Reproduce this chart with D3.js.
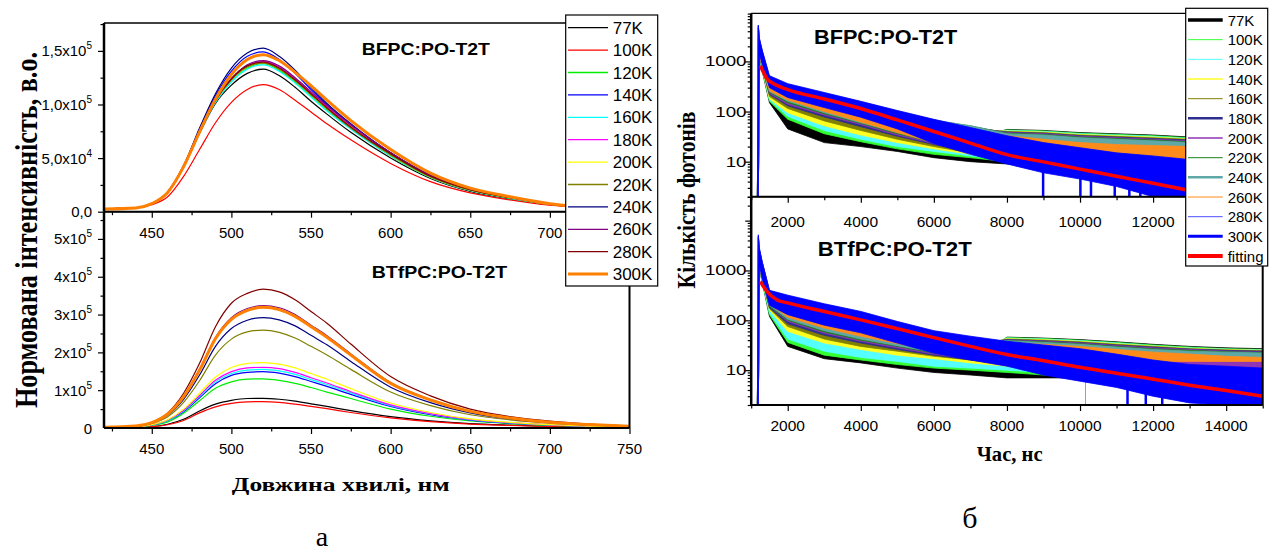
<!DOCTYPE html>
<html>
<head>
<meta charset="utf-8">
<script src="https://cdn.jsdelivr.net/npm/d3@7"></script>
<style>
  body { margin: 0; background: #fff; }
  svg { display: block; }
  text { font-family: Arial, "Liberation Sans", sans-serif; fill: #000; }
  .serif { font-family: "Times New Roman", "Liberation Serif", serif; }
</style>
</head>
<body>
<svg id="chart" width="1275" height="555"></svg>
<script>
// ---------- data ----------
const temps = ['77K', '100K', '120K', '140K', '160K', '180K', '200K', '220K', '240K', '260K', '280K', '300K'];

// (a) PL spectra, intensity in units of 10^3
const wavelengths = [420, 440, 450, 460, 470, 480, 490, 500, 510, 520, 530, 540, 550, 560, 575, 600, 625, 650, 675, 700, 725, 750];
const bfpcSpectra = [
  [2.5, 3.5, 7.5, 18, 41.5, 73, 101, 118, 129, 133, 127, 116, 103, 91, 74, 50, 31, 19, 12, 6.5, 3.5, 2],
  [2.5, 3.5, 6.5, 14, 33, 58, 83, 102, 114, 118.5, 114, 104, 93, 82, 67, 45, 28, 17.5, 11, 6, 3.5, 2],
  [2.5, 3.5, 7.5, 18, 42, 74, 103, 122, 134, 138, 132, 121, 108, 95, 78, 52, 32, 20, 12.5, 7, 4, 2],
  [2.5, 3.5, 7.5, 18.5, 43, 77, 108, 131, 145, 149, 142, 129, 114, 100, 81, 55, 34, 21, 13, 7, 4, 2],
  [2.5, 3.5, 7.5, 18, 42, 73.5, 102, 121, 133, 137, 131, 120, 107, 94, 77, 52, 32, 19.5, 12.5, 7, 4, 2],
  [2.5, 3.5, 7.5, 18, 42, 74, 104, 124, 136, 140, 135, 124, 111, 98, 80, 54, 33, 20.5, 13, 7, 4, 2],
  [2.5, 3.5, 7.5, 18, 42, 74, 103, 123, 135, 139, 133, 122, 109, 96, 79, 53, 32.5, 20, 13, 7, 4, 2],
  [2.5, 3.5, 7.5, 18, 42, 74, 103, 123, 135, 138.5, 133, 122, 109, 96, 78, 53, 32.5, 20, 13, 7, 4, 2],
  [2.5, 3.5, 7.5, 18.5, 43, 78, 110, 134, 148, 152.5, 145, 132, 116, 101, 82, 55, 34, 21, 13.5, 7, 4, 2],
  [2.5, 3.5, 7.5, 18, 42, 74, 104, 124, 137, 141, 136, 125, 112, 99, 81, 55, 34, 21, 13.5, 7.5, 4, 2],
  [2.5, 3.5, 7.5, 18, 42, 74, 104, 124, 136, 139.5, 134, 123, 110, 97, 79, 54, 33, 20.5, 13, 7, 4, 2],
  [2.5, 3.5, 7.5, 18, 42, 74.5, 105, 128, 142, 146.5, 141, 130, 117.5, 104, 85, 58, 36, 22, 14, 7.5, 4, 2.5]
];
const btfpcSpectra = [
  [2, 2.5, 4, 10, 23, 45, 63, 73, 78, 78.5, 76, 71, 64, 57, 46, 30, 19, 11.5, 7.5, 4.5, 3, 2],
  [2, 2.5, 3.5, 8.5, 20, 40, 56, 65, 69, 70, 68, 63, 57, 51, 41, 27, 17, 10.5, 7, 4, 2.5, 2],
  [2, 3, 7, 16, 39, 72, 105, 122, 129, 130, 126, 118, 107, 95, 78, 50, 31, 18.5, 11.5, 7, 4, 2.5],
  [2, 3.5, 8, 19, 43, 80, 117, 139, 147, 149, 145, 136, 123, 110, 89, 57, 35, 21, 13, 8, 4.5, 3],
  [2, 3.5, 8, 20, 45, 83, 122, 144, 153, 155, 151, 142, 128, 115, 93, 59, 37, 22, 13.5, 8, 4.5, 3],
  [2, 3.5, 8.5, 21, 47, 86, 126, 149, 159, 160.5, 157, 147, 133, 119, 96, 61, 38, 22.5, 14, 8.5, 5, 3],
  [2, 3.5, 9, 22, 50, 92, 135, 160, 171, 173, 169, 159, 144, 129, 104, 66, 41, 24, 15, 9, 5, 3],
  [2, 4, 12, 30, 68, 125, 193, 235, 254, 259, 253, 238, 216, 193, 155, 95, 59, 35, 21.5, 12.5, 7, 3.5],
  [2, 4.5, 13, 34, 76, 140, 216, 263, 285, 292, 286, 270, 245, 220, 176, 108, 67, 40, 24, 14, 8, 4],
  [2, 5, 14, 37, 84, 155, 240, 292, 316, 323.5, 318, 300, 272, 244, 196, 120, 75, 44, 27, 16, 9, 4.5],
  [2, 5, 15, 40, 92, 171, 268, 330, 356, 367, 360, 339, 308, 277, 222, 136, 85, 50, 30, 18, 10, 5],
  [2, 5, 14, 37, 83, 153, 236, 287, 311, 319, 313, 295, 268, 240, 193, 118, 74, 44, 26.5, 15.5, 9, 4.5]
];
const specColors = ['#000000', '#ff0000', '#00ee00', '#0000ff', '#00ffff', '#ff00ff', '#ffff00', '#808000', '#000080', '#800080', '#800000', '#ff8000'];
const specWidths = [1.2, 1.2, 1.2, 1.2, 1.2, 1.2, 1.2, 1.2, 1.2, 1.2, 1.2, 3];

// (б) decay curves: noisy band of each curve as lower / upper envelope
const decayTimes = [1170, 1195, 1225, 1300, 1500, 2000, 3000, 4000, 5000, 6000, 7000, 8000, 9000, 10000, 11000, 12000, 13000, 14000, 15000];
const bfpcHi = [
  [2, 4200, 2300, 1350, 350, 90, 45, 35, 30, 27, 27, 44, 42, 38, 36, 34, 31, 30, 29],
  [2, 4300, 2400, 1400, 370, 150, 75, 52, 40, 34, 32, 43, 41, 37, 35, 33, 30, 29, 28],
  [2, 4400, 2400, 1400, 380, 170, 90, 60, 45, 38, 35, 42, 40, 36, 34, 32, 29, 28, 27],
  [2, 4500, 2500, 1450, 400, 200, 110, 75, 56, 45, 40, 41, 39, 35, 33, 31, 28.5, 27.5, 26.5],
  [2, 4600, 2500, 1500, 420, 250, 150, 100, 72, 55, 45, 40, 38, 34, 32, 30, 28, 27, 26],
  [2, 4700, 2600, 1500, 440, 280, 175, 118, 82, 60, 48, 39, 37, 33, 31, 29, 27, 26, 25],
  [2, 4800, 2600, 1550, 450, 300, 190, 128, 88, 64, 50, 38, 36, 32, 30, 28, 26, 25, 24],
  [2, 4900, 2700, 1550, 460, 310, 200, 135, 92, 66, 52, 37, 35, 31, 29, 27, 25, 24, 23],
  [2, 5000, 2700, 1600, 470, 320, 210, 140, 95, 68, 52, 36, 34, 30, 28, 26, 24, 23, 22],
  [2, 5100, 2800, 1600, 480, 330, 215, 140, 90, 60, 42, 33, 28, 24, 22, 21, 20, 19, 18],
  [2, 5200, 2800, 1650, 500, 350, 232, 155, 102, 68, 47, 32, 23, 18.5, 14.5, 12.5, 10.5, 9.5, 8.5],
  [2, 5300, 2900, 1700, 520, 360, 240, 160, 105, 70, 48, 33, 24, 19, 15, 13, 11, 10, 9]
];
const bfpcLo = [
  [2, 2, 1100, 650, 150, 45, 24, 20, 16, 12, 10, 9, 8, 8, 7, 7, 6, 6, 6],
  [2, 2, 1150, 700, 160, 70, 36, 25, 18, 14, 12, 10, 9, 8, 8, 7, 7, 6, 6],
  [2, 2, 1150, 700, 170, 80, 42, 28, 20, 16, 13, 11, 10, 9, 8, 8, 7, 7, 6],
  [2, 2, 1200, 750, 180, 95, 52, 34, 24, 18, 14, 11, 10, 9, 8, 8, 7, 7, 6],
  [2, 2, 1200, 760, 200, 115, 65, 42, 28, 20, 15, 12, 10, 9, 8, 8, 7, 7, 6],
  [2, 2, 1250, 780, 220, 130, 78, 50, 32, 22, 16, 12, 11, 10, 9, 8, 8, 7, 7],
  [2, 2, 1250, 800, 230, 140, 85, 55, 34, 23, 16, 12, 11, 10, 9, 8, 8, 7, 7],
  [2, 2, 1300, 800, 240, 150, 90, 58, 36, 24, 17, 13, 11, 10, 9, 8, 8, 7, 7],
  [2, 2, 1300, 800, 250, 160, 95, 60, 38, 25, 17, 13, 11, 10, 9, 8, 8, 7, 7],
  [2, 2, 1300, 850, 260, 170, 100, 62, 38, 24, 16, 12, 10, 9, 8, 7, 7, 6, 6],
  [2, 2, 1450, 950, 320, 200, 126, 80, 47, 24, 15, 9.5, 6.5, 4.7, 3.4, 2.1, 2.1, 2.1, 2.1],
  [2, 2, 1400, 900, 300, 190, 120, 77, 45, 23, 14, 9, 6, 4.5, 3.2, 2, 2, 2, 2]
];
const btfpcHi = [
  [2, 4000, 2200, 1300, 250, 60, 26, 20, 17, 15, 14, 46, 44, 41, 37, 33, 30, 28, 27],
  [2, 4100, 2200, 1350, 270, 70, 38, 28, 24, 22, 20, 45, 43, 40, 36, 32, 29, 27, 26],
  [2, 4200, 2300, 1400, 290, 85, 45, 33, 27, 24, 22, 44, 42, 39, 35, 31, 28, 26.5, 25.5],
  [2, 4300, 2300, 1400, 320, 120, 70, 45, 36, 30, 26, 43, 41, 38, 34, 30.5, 27.5, 26, 25],
  [2, 4400, 2400, 1450, 350, 150, 80, 55, 42, 34, 30, 42, 40, 37, 33, 30, 27, 25.5, 24.5],
  [2, 4500, 2400, 1450, 370, 170, 95, 65, 48, 38, 32, 41, 39, 36, 32, 29, 26.5, 25, 24],
  [2, 4600, 2500, 1450, 380, 190, 110, 75, 55, 42, 35, 40, 38, 35, 31, 28, 26, 24, 23],
  [2, 4700, 2500, 1450, 380, 200, 120, 80, 58, 44, 36, 39.5, 37, 34, 30, 27, 25, 23.5, 22.5],
  [2, 4800, 2600, 1450, 390, 210, 125, 85, 60, 45, 37, 39, 36, 33, 29, 26, 24, 23, 22],
  [2, 4900, 2600, 1500, 400, 230, 140, 100, 70, 50, 40, 36, 33, 30, 26, 23, 21, 19, 18],
  [2, 5000, 2700, 1480, 390, 310, 208, 146, 92, 60, 46, 37, 31, 26, 20, 15.5, 12.5, 11.5, 10.5],
  [2, 5200, 2800, 1500, 400, 320, 215, 151, 95, 62, 48, 38, 32, 27, 21, 16, 13, 12, 11]
];
const btfpcLo = [
  [2, 2, 1000, 600, 120, 30, 17, 14, 11, 9, 8, 7, 7, 7, 7, 6, 6, 6, 6],
  [2, 2, 1050, 620, 130, 36, 20, 16, 13, 11, 10, 9, 8, 8, 7, 7, 7, 6, 6],
  [2, 2, 1050, 650, 140, 42, 24, 18, 15, 12, 11, 10, 9, 9, 8, 8, 8, 7, 7],
  [2, 2, 1100, 650, 160, 60, 35, 26, 20, 17, 14, 12, 10, 9, 9, 8, 8, 8, 8],
  [2, 2, 1100, 680, 170, 75, 42, 30, 24, 19, 16, 13, 11, 10, 9, 9, 8, 8, 8],
  [2, 2, 1150, 700, 180, 85, 50, 35, 26, 20, 16, 13, 11, 10, 9, 9, 8, 8, 8],
  [2, 2, 1150, 700, 190, 95, 55, 38, 28, 21, 17, 14, 12, 10, 9, 9, 8, 8, 8],
  [2, 2, 1150, 700, 190, 100, 58, 40, 30, 22, 18, 16, 16, 16, 16, 16, 16, 16, 16],
  [2, 2, 1200, 700, 200, 105, 62, 42, 31, 23, 18, 16, 16, 16, 16, 16, 16, 16, 16],
  [2, 2, 1200, 720, 210, 115, 70, 48, 34, 25, 19, 16, 15, 15, 15, 15, 15, 15, 15],
  [2, 2, 1350, 730, 210, 136, 84, 59, 37, 23, 17, 12.5, 8.5, 6.3, 4.7, 3.1, 2.3, 2.1, 2.1],
  [2, 2, 1300, 700, 200, 130, 80, 56, 35, 22, 16, 12, 8, 6, 4.5, 3, 2.2, 2, 2]
];
// deep single-channel dips that reach the axis: [series index, time, top value]
const bfpcDips = [[11, 8990, 8], [11, 10010, 5], [11, 10300, 5], [11, 10950, 4], [11, 11350, 3.5], [11, 11650, 3]];
const btfpcDips = [[9, 10150, 15], [11, 11300, 4.5], [11, 11800, 3.5], [11, 12250, 3]];

const fitTimes = [1250, 1430, 1700, 2000, 3000, 4000, 5000, 6000, 7000, 8000, 9000, 10000, 11000, 12000, 13000, 14000, 15000];
const bfpcFit = [815, 457, 335, 275, 178, 115, 68, 40, 23.5, 13.8, 9.9, 7.1, 5.1, 3.7, 2.65, 1.9, 1.4];
const btfpcFit = [600, 380, 258, 224, 150, 102, 68, 45, 30, 20.6, 15.5, 11.4, 8.7, 6.6, 5.0, 3.9, 3.0];

const decayColors = ['#000000', '#33ff33', '#55ffff', '#ffff22', '#808000', '#2e2e8f', '#8f35b5', '#1a801a', '#5fa8a8', '#ff8c1a', '#4d4dff', '#0000ff'];
const decayLegendWidths = [3.5, 1, 1, 1.5, 1, 2.5, 1.5, 1, 2.5, 1, 1, 3];

// ---------- layout ----------
const svg = d3.select('#chart');
const defs = svg.append('defs');

function clip(id, x0, y0, x1, y1) {
  defs.append('clipPath').attr('id', id)
    .append('rect').attr('x', x0).attr('y', y0).attr('width', x1 - x0).attr('height', y1 - y0);
}

function stretchedText(g, x, y, str, size, len, opts) {
  const t = g.append('text')
    .attr('x', x).attr('y', y)
    .attr('font-size', size)
    .attr('font-weight', opts.bold ? 'bold' : null)
    .attr('text-anchor', opts.anchor || 'start')
    .attr('textLength', len)
    .attr('lengthAdjust', 'spacingAndGlyphs')
    .text(str);
  if (opts.serif) t.attr('class', 'serif');
  if (opts.rotate) t.attr('transform', `rotate(-90, ${x}, ${y})`);
  return t;
}

function frame(g, x0, y0, x1, y1) {
  g.append('line').attr('x1', x0).attr('x2', x1).attr('y1', y0).attr('y2', y0).attr('stroke', '#000').attr('stroke-width', 1.3);
  g.append('line').attr('x1', x1).attr('x2', x1).attr('y1', y0).attr('y2', y1).attr('stroke', '#000').attr('stroke-width', 2);
  g.append('line').attr('x1', x0).attr('x2', x1).attr('y1', y1).attr('y2', y1).attr('stroke', '#000').attr('stroke-width', 2);
  g.append('line').attr('x1', x0).attr('x2', x0).attr('y1', y0).attr('y2', y1).attr('stroke', '#000').attr('stroke-width', 2.5);
}

function tickAxis(g, axis, values, size) {
  g.call(axis.tickValues(values).tickSize(size).tickFormat(''))
    .call(s => s.select('.domain').remove())
    .call(s => s.selectAll('line').attr('stroke-width', 1.2));
}

// ================= (a) spectra =================
const lx = d3.scaleLinear().domain([420, 750]).range([104, 629.5]);
const lyTop = d3.scaleLinear().domain([0, 176]).range([211.7, 23]);
const lyBot = d3.scaleLinear().domain([0, 572]).range([428, 211.7]);
clip('clipLT', 104, 23, 629.5, 211.7);
clip('clipLB', 104, 211.7, 629.5, 428);

const left = svg.append('g');

function drawSpectra(data, y, clipId) {
  const line = d3.line()
    .x((d, i) => lx(wavelengths[i]))
    .y(d => y(d))
    .curve(d3.curveMonotoneX);
  left.append('g').attr('clip-path', `url(#${clipId})`)
    .selectAll('path').data(data).join('path')
    .attr('d', line)
    .attr('fill', 'none')
    .attr('stroke', (d, i) => specColors[i])
    .attr('stroke-width', (d, i) => specWidths[i])
    .attr('stroke-linejoin', 'round');
}
drawSpectra(bfpcSpectra, lyTop, 'clipLT');
drawSpectra(btfpcSpectra, lyBot, 'clipLB');

const xMajorL = [450, 500, 550, 600, 650, 700, 750];
const xMinorL = [425, 475, 525, 575, 625, 675, 725];
[211.7, 428].forEach(yy => {
  tickAxis(left.append('g').attr('transform', `translate(0,${yy})`), d3.axisBottom(lx), xMajorL, 6);
  tickAxis(left.append('g').attr('transform', `translate(0,${yy})`), d3.axisBottom(lx), xMinorL, 3.5);
});
tickAxis(left.append('g').attr('transform', 'translate(104,0)'), d3.axisLeft(lyTop), [0, 50, 100, 150], 6);
tickAxis(left.append('g').attr('transform', 'translate(104,0)'), d3.axisLeft(lyTop), [25, 75, 125, 175], 3.5);
tickAxis(left.append('g').attr('transform', 'translate(104,0)'), d3.axisLeft(lyBot), [100, 200, 300, 400, 500], 6);
tickAxis(left.append('g').attr('transform', 'translate(104,0)'), d3.axisLeft(lyBot), [50, 150, 250, 350, 450, 550], 3.5);

frame(left, 104, 23, 629.5, 211.7);
frame(left, 104, 211.7, 629.5, 428);

// x tick labels (the top panel's 750 sits under the legend)
[[238, xMajorL.slice(0, -1)], [454, xMajorL]].forEach(([by, vals]) => {
  left.selectAll(null).data(vals).join('text')
    .attr('x', d => lx(d)).attr('y', by)
    .attr('text-anchor', 'middle').attr('font-size', 15)
    .text(d => d);
});

// y tick labels with superscript exponent
const topTickVals = [0, 50, 100, 150];
const topTickLabels = [['0,0', ''], ['5,0x10', '4'], ['1,0x10', '5'], ['1,5x10', '5']];
const botTickVals = [0, 100, 200, 300, 400, 500];
const botTickLabels = [['0', ''], ['1x10', '5'], ['2x10', '5'], ['3x10', '5'], ['4x10', '5'], ['5x10', '5']];

function yLabels(vals, labels, y) {
  vals.forEach((v, i) => {
    const t = left.append('text')
      .attr('x', 92).attr('y', y(v) + 5.5)
      .attr('text-anchor', 'end').attr('font-size', 15);
    t.append('tspan').text(labels[i][0]);
    if (labels[i][1]) {
      t.append('tspan').attr('font-size', 10).attr('dy', -7).text(labels[i][1]);
    }
  });
}
yLabels(topTickVals, topTickLabels, lyTop);
yLabels(botTickVals, botTickLabels, lyBot);

stretchedText(left, 361.7, 55, 'BFPC:PO-T2T', 16.5, 128.3, { bold: true });
stretchedText(left, 371.7, 278.3, 'BTfPC:PO-T2T', 16.5, 135.6, { bold: true });

// rotated axis title: glyphs drawn taller than their advance, as in the source figure
left.append('text')
  .attr('class', 'serif')
  .attr('transform', 'translate(37,230) rotate(-90) scale(1,1.28)')
  .attr('text-anchor', 'middle')
  .attr('font-size', 25)
  .attr('font-weight', 'bold')
  .attr('textLength', 356)
  .attr('lengthAdjust', 'spacingAndGlyphs')
  .text('Нормована інтенсивність, в.о.');
stretchedText(left, 340.8, 491, 'Довжина хвилі, нм', 18.5, 218, { bold: true, serif: true, anchor: 'middle' });

// legend (a)
const legA = left.append('g');
legA.append('rect').attr('x', 565.7).attr('y', 15).attr('width', 92).attr('height', 271)
  .attr('fill', '#fff').attr('stroke', '#000').attr('stroke-width', 1.2);
temps.forEach((t, i) => {
  const yy = 27.7 + i * 22.4;
  legA.append('line').attr('x1', 568).attr('x2', 608).attr('y1', yy).attr('y2', yy)
    .attr('stroke', specColors[i]).attr('stroke-width', i === 11 ? 3 : 1.3);
  legA.append('text').attr('x', 612.7).attr('y', yy + 6).attr('font-size', 17).text(t);
});

svg.append('text').attr('class', 'serif').attr('x', 322).attr('y', 546)
  .attr('text-anchor', 'middle').attr('font-size', 28).text('а');

// ================= (б) decays =================
const rx = d3.scaleLinear().domain([1000, 15000]).range([751.2, 1262.7]);
const ryTop = d3.scaleLog().domain([2, 9120]).range([196.7, 13.3]);
const ryBot = d3.scaleLog().domain([2, 30200]).range([405, 196.7]);
clip('clipRT', 751.2, 13.3, 1262.7, 196.7);
clip('clipRB', 751.2, 196.7, 1262.7, 405);

const right = svg.append('g');

function drawDecays(hi, lo, dips, fit, y, clipId) {
  const g = right.append('g').attr('clip-path', `url(#${clipId})`);
  const area = d3.area()
    .x(d => rx(d.t))
    .y0(d => y(d.lo))
    .y1(d => y(d.hi));
  hi.forEach((row, s) => {
    const pts = decayTimes.map((t, i) => ({ t, hi: row[i], lo: lo[s][i] }));
    g.append('path').attr('d', area(pts))
      .attr('fill', decayColors[s]).attr('stroke', decayColors[s]).attr('stroke-width', 0.8);
    dips.filter(d => d[0] === s).forEach(d => {
      g.append('line').attr('x1', rx(d[1])).attr('x2', rx(d[1]))
        .attr('y1', y(d[2])).attr('y2', y(2))
        .attr('stroke', decayColors[s]).attr('stroke-width', s === 11 ? 2.5 : 1);
    });
  });
  const line = d3.line().x((d, i) => rx(fitTimes[i])).y(d => y(d)).curve(d3.curveMonotoneX);
  g.append('path').attr('d', line(fit)).attr('fill', 'none')
    .attr('stroke', '#ff0000').attr('stroke-width', 3.5);
}
drawDecays(bfpcHi, bfpcLo, bfpcDips, bfpcFit, ryTop, 'clipRT');
drawDecays(btfpcHi, btfpcLo, btfpcDips, btfpcFit, ryBot, 'clipRB');

const xMajorR = [2000, 4000, 6000, 8000, 10000, 12000, 14000];
const xMinorR = [1000, 3000, 5000, 7000, 9000, 11000, 13000, 15000];
[196.7, 405].forEach(yy => {
  tickAxis(right.append('g').attr('transform', `translate(0,${yy})`), d3.axisBottom(rx), xMajorR, 6);
  tickAxis(right.append('g').attr('transform', `translate(0,${yy})`), d3.axisBottom(rx), xMinorR, 3.5);
});
const logMajor = [10, 100, 1000, 10000];
const logMinor = [];
[1, 10, 100, 1000, 10000].forEach(d => { for (let m = 2; m <= 9; m++) logMinor.push(d * m); });
[ryTop, ryBot].forEach(y => {
  const [lo, hi] = y.domain();
  tickAxis(right.append('g').attr('transform', 'translate(751.2,0)'), d3.axisLeft(y), logMajor.filter(v => v >= lo && v <= hi), 6);
  tickAxis(right.append('g').attr('transform', 'translate(751.2,0)'), d3.axisLeft(y), logMinor.filter(v => v >= lo && v <= hi), 3.5);
});

frame(right, 751.2, 13.3, 1262.7, 196.7);
frame(right, 751.2, 196.7, 1262.7, 405);

// x tick labels (the top panel's 14000 sits under the legend)
[[226.7, xMajorR.slice(0, -1)], [430.7, xMajorR]].forEach(([by, vals]) => {
  right.selectAll(null).data(vals).join('text')
    .attr('x', d => rx(d)).attr('y', by)
    .attr('text-anchor', 'middle').attr('font-size', 15.5)
    .text(d => d);
});
const yLabelVals = [10, 100, 1000];
[ryTop, ryBot].forEach(y => {
  yLabelVals.forEach(v => {
    const s = String(v);
    stretchedText(right, 746.5, y(v) + 5, s, 14.5, s.length * 10.4, { anchor: 'end' });
  });
});

stretchedText(right, 814, 44, 'BFPC:PO-T2T', 19.5, 143.3, { bold: true });
stretchedText(right, 817.7, 255.7, 'BTfPC:PO-T2T', 21, 154, { bold: true });

stretchedText(right, 695, 200, 'Кількість фотонів', 26, 177, { bold: true, serif: true, anchor: 'middle', rotate: true });
stretchedText(right, 1009.7, 461, 'Час, нс', 20, 66, { bold: true, serif: true, anchor: 'middle' });

// legend (б)
const legB = right.append('g');
legB.append('rect').attr('x', 1185.7).attr('y', 8.3).attr('width', 82).attr('height', 257.7)
  .attr('fill', '#fff').attr('stroke', '#000').attr('stroke-width', 1.2);
temps.concat(['fitting']).forEach((t, i) => {
  const yy = 20 + i * 19.67;
  legB.append('line').attr('x1', 1188).attr('x2', 1222.7).attr('y1', yy).attr('y2', yy)
    .attr('stroke', i < 12 ? decayColors[i] : '#ff0000')
    .attr('stroke-width', i < 12 ? decayLegendWidths[i] : 4);
  legB.append('text').attr('x', 1227.7).attr('y', yy + 5.5).attr('font-size', 15).text(t);
});

svg.append('text').attr('class', 'serif').attr('x', 970).attr('y', 528)
  .attr('text-anchor', 'middle').attr('font-size', 30).text('б');
</script>
</body>
</html>
